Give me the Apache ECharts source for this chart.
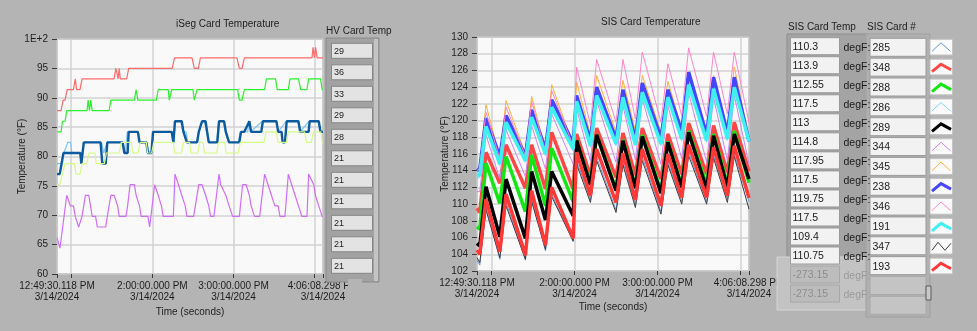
<!DOCTYPE html>
<html>
<head>
<meta charset="utf-8">
<script src="https://cdn.jsdelivr.net/npm/echarts@6/dist/echarts.min.js"></script>
<style>
html, body { margin: 0; padding: 0; background: #b4b4b4; }
#c { width: 977px; height: 331px; }
</style>
</head>
<body>
<div id="c"></div>
<script>
// ---- time axis (minutes after 12:49:30.118 PM, 3/14/2024) ----
const timeEnd = 196.636;                                  // 4:06:08.298 PM
const hourTicks = [0, 10.498, 70.498, 130.498, 190.498, 196.636];
const labelTicks = [0, 70.498, 130.498, 196.636];
const labelTexts = ['12:49:30.118 PM\n3/14/2024', '2:00:00.000 PM\n3/14/2024',
                    '3:00:00.000 PM\n3/14/2024', '4:06:08.298 PM\n3/14/2024'];

// ---- iSeg card temperatures (°F), [minute, value] ----
const isegLightBlue = [[0,78.8],[3,78.8],[5,80.6],[8,82.4],[10,82.4],[11,80.6],[19,80.6],[20,82.4],[33,82.4],[34.5,80.6],[37,82.4],[49,82.4],[50.5,80.6],[52,84.2],[60,84.2],[61.5,82.4],[66.5,82.4],[68,80.6],[70,80.6],[71.5,84.2],[85.5,84.2],[86.5,82.4],[87.5,86],[91.5,86],[93,84.2],[95.5,84.2],[96.5,82.4],[104,82.4],[105,84.2],[107.5,86],[109,86],[110.5,84.2],[112.5,82.4],[118,82.4],[119.5,86],[123,86],[124.5,84.2],[127,82.4],[134,82.4],[135.5,84.2],[141,84.2],[142,86],[143,84.2],[152,86],[162,86],[163.5,84.2],[169.5,86],[178,86],[179.5,84.2],[186.5,86],[193,86],[194.5,84.2],[196.6,84.2]];
const isegRed = [[0,87.8],[3,87.8],[4.5,89.6],[6,89.6],[7.5,91.4],[12.2,91.4],[13.5,93.2],[14.5,91.4],[17,91.4],[18.5,93.2],[42.2,93.2],[43.5,95],[44.5,95],[45.2,93.2],[46,95],[46.8,93.2],[51.5,93.2],[53,95],[85.2,95],[86.8,96.8],[99.8,96.8],[101.5,95],[104.5,95],[106,96.8],[133,96.8],[134.8,95],[136.8,95],[138.5,96.8],[188.5,96.8],[189.3,98.6],[190.3,96.8],[191.2,98.6],[192.3,96.8],[196.6,96.8]];
const isegGreen = [[0,84.2],[3,84.2],[4,86],[6,86],[7.2,87.8],[22.2,87.8],[23,89.6],[24,87.8],[25,89.6],[26,87.8],[38.5,87.8],[39.8,89.6],[57.2,89.6],[58.5,91.4],[59.8,89.6],[73.5,89.6],[74.8,91.4],[82.2,91.4],[83,89.6],[84,89.6],[84.8,91.4],[100.5,91.4],[101.5,89.6],[102.5,89.6],[103.5,91.4],[133.5,91.4],[134.8,89.6],[136.8,89.6],[138.5,91.4],[153.5,91.4],[154.8,93.2],[161.5,93.2],[162.8,91.4],[171,91.4],[172.2,93.2],[178.5,93.2],[180.2,91.4],[184.8,91.4],[186,93.2],[194.8,93.2],[196,91.4],[196.6,91.4]];
const isegDarkBlue = [[0,77],[2,77],[4.8,80.6],[17.2,80.6],[18,78.8],[18.8,78.8],[19.8,82.4],[32.2,82.4],[33.5,78.8],[36,78.8],[37.2,82.4],[48.5,82.4],[49.8,80.6],[52.2,80.6],[53,84.2],[59.8,84.2],[61,82.4],[66,82.4],[67.2,80.6],[69.8,80.6],[71,84.2],[84.8,84.2],[86,82.4],[87.2,86],[92.2,86],[93.5,84.2],[94.8,84.2],[96,82.4],[103.5,82.4],[104.8,84.2],[106,84.2],[107.2,86],[109.8,86],[111,84.2],[112.2,82.4],[118.5,82.4],[119.8,86],[123.5,86],[124.8,84.2],[126,84.2],[127.2,82.4],[134.8,82.4],[136,84.2],[138.5,84.2],[142.2,86],[143.5,84.2],[151,84.2],[152.2,86],[162.2,86],[163.5,84.2],[166,84.2],[166.8,82.4],[168.5,82.4],[169.8,86],[178.5,86],[179.8,84.2],[186,84.2],[186.8,86],[193.5,86],[194.8,84.2],[196.6,84.2]];
const isegYellowGreen = [[0,75.2],[2,75.2],[4,77],[6,78.8],[13,78.8],[14,77],[17,77],[18.5,78.8],[22,78.8],[23.5,80.6],[28,80.6],[29,78.8],[35,78.8],[36.5,80.6],[46,80.6],[47.5,82.4],[55,82.4],[56,80.6],[60,80.6],[61.5,82.4],[66,82.4],[67,80.6],[70,80.6],[71.5,82.4],[86,82.4],[87,80.6],[92,80.6],[93.5,82.4],[98,82.4],[99,80.6],[104,80.6],[105.5,82.4],[108,82.4],[109,80.6],[118,80.6],[119.5,82.4],[124,82.4],[125,80.6],[134,80.6],[135.5,82.4],[153,82.4],[154.5,84.2],[162,84.2],[163.5,82.4],[169.5,82.4],[171,84.2],[183,84.2],[184.5,82.4],[188,82.4],[189.5,84.2],[195,84.2],[196,82.4],[196.6,82.4]];
const isegViolet = [[0,66.2],[0.5,66.2],[2.2,64.4],[7.2,73.4],[9.8,71.6],[12.2,71.6],[13.5,69.8],[16,68],[17.2,68],[18.5,69.8],[21,73.4],[23.5,73.4],[24.8,71.6],[26,69.8],[28.5,69.8],[29.8,68],[36,68],[37.2,69.8],[39.8,73.4],[42.2,73.4],[44.8,71.6],[46,69.8],[51,69.8],[52.2,71.6],[54,75.2],[57.2,75.2],[58.5,73.4],[61,71.6],[62.2,69.8],[67.2,69.8],[68.5,68],[72.2,75.2],[73.5,75.2],[74.8,73.4],[77.2,71.6],[78.5,69.8],[86,69.8],[87.2,77],[89.8,75.2],[92.2,73.4],[94.8,71.6],[96,69.8],[101,69.8],[104.8,75.2],[107.2,75.2],[109.8,73.4],[112.2,71.6],[113.5,69.8],[116,69.8],[119.8,77],[121,75.2],[122.2,75.2],[124.8,73.4],[127.2,71.6],[128.5,71.6],[129.8,69.8],[134.8,69.8],[137.2,75.2],[139.8,75.2],[142.2,73.4],[143.5,71.6],[146,69.8],[149.8,69.8],[153.5,77],[156,75.2],[158.5,73.4],[161,71.6],[163.5,71.6],[164.8,69.8],[168.5,69.8],[171,77],[173.5,75.2],[176,73.4],[178.5,71.6],[181,69.8],[184.8,69.8],[186,77],[187.2,77],[189.8,75.2],[191,73.4],[193.5,71.6],[196,69.8],[196.6,69.8]];
const hvCardTemp = [29, 36, 33, 29, 28, 21, 21, 21, 21, 21, 21];

// ---- SIS card temperatures (°F): heat cycles ----
const sisRise = [2, 16.5, 35, 49.5, 69.5, 82, 100.5, 114.5, 133, 148, 166, 181];
const sisPeak = [6.5, 21, 39.5, 54, 72, 86.5, 105.5, 119.5, 138, 153, 171, 186];
const sisCardIds = [285, 348, 288, 286, 289, 344, 345, 238, 346, 191, 347, 193];
const sisCardTemp = [110.3, 113.9, 112.55, 117.5, 113, 114.8, 117.95, 117.5, 119.75, 117.5, 109.4, 110.75, -273.15, -273.15];
const sisStart = [103.3, 109.5, 107.3, 113.0, 105.3, 111.5, 114.3, 114.0, 114.0, 113.4, 103.6, 104.5];
const sisLow = [
  [102.7,103.4,103.3,104.4,105.5,110.5,109.3,109.9,109.1,110.3,110.3,110.6],
  [109.0,112.5,111.9,111.8,111.8,113.4,113.2,113.5,113.0,113.6,113.6,113.8],
  [107.0,110.1,109.1,109.8,110.3,112.4,111.8,112.0,111.6,112.2,112.3,112.4],
  [113.2,114.6,115.0,115.8,116.4,116.8,117.0,117.0,117.0,117.6,117.4,117.6],
  [105.0,106.1,105.9,108.1,108.6,112.3,111.6,111.9,111.3,112.0,111.8,112.0],
  [111.5,113.0,113.3,114.2,114.8,115.2,115.0,115.3,114.8,115.4,115.0,115.2],
  [114.6,115.6,116.0,116.5,117.0,118.3,118.6,118.8,118.6,119.0,118.8,119.0],
  [114.2,115.7,115.8,116.6,117.3,117.6,117.8,117.7,117.9,118.7,118.3,118.5],
  [114.3,115.4,115.8,116.3,117.0,119.5,119.8,120.2,119.8,120.6,120.5,120.8],
  [113.5,114.8,115.2,116.0,116.6,117.0,117.2,117.1,117.2,117.8,117.6,117.8],
  [103.0,103.6,103.4,104.6,105.6,110.2,109.0,109.6,108.8,110.0,110.0,110.2],
  [104.0,104.3,103.9,105.1,105.9,111.0,110.2,110.5,109.8,110.8,110.8,111.0]
];
const sisHigh = [
  [109.6,110.2,110.6,111.2,115.2,115.6,115.0,115.6,115.0,116.2,115.8,116.0],
  [116.2,117.1,117.1,118.6,118.4,119.1,118.5,119.1,118.4,119.7,119.4,119.8],
  [114.9,115.7,115.9,116.7,117.6,118.3,117.7,118.3,117.5,118.8,118.4,118.8],
  [119.6,120.1,120.7,122.0,122.7,123.5,123.1,123.8,123.2,124.9,124.4,124.6],
  [112.1,113.0,113.9,113.9,117.6,118.3,117.6,118.1,117.4,118.6,118.2,118.4],
  [118.3,118.9,119.4,120.8,121.4,122.4,121.8,122.6,121.8,123.3,122.8,123.0],
  [121.9,122.4,122.9,124.3,124.6,125.4,124.8,125.4,124.7,125.8,125.4,126.4],
  [120.3,120.6,121.3,122.5,123.0,124.0,123.7,124.5,123.7,125.8,125.2,125.2],
  [121.0,121.6,122.3,123.6,126.4,127.3,127.3,128.2,126.8,128.7,128.2,128.2],
  [119.3,119.8,120.4,121.6,122.3,123.0,122.8,123.4,122.8,124.3,123.8,124.0],
  [109.3,109.8,110.3,110.9,114.8,115.2,114.7,115.2,114.7,115.8,115.5,115.7],
  [110.6,111.2,111.6,112.0,116.2,116.6,116.1,116.6,116.0,117.1,116.8,117.0]
];
const sisColors = ['#6b98cc', '#ff4646', '#14e614', '#86d3fb', '#000000', '#cf84f5',
                   '#ffb23c', '#4646ff', '#ff86cb', '#3ef0f0', '#3c3c3c', '#ff3838'];
const sisWidths = [1, 3.5, 3.5, 1, 3.5, 1, 1, 3.5, 1, 3.5, 1, 3.5];

const FONT = 'Liberation Sans, Arial, sans-serif';
const TXT = '#1e1e1e';

function sisPoints(i) {
  const pts = [[0, sisStart[i]]];
  for (let k = 0; k < sisRise.length; k++) {
    pts.push([sisRise[k], sisLow[i][k]]);
    pts.push([sisPeak[k], sisHigh[i][k]]);
  }
  pts.push([timeEnd, sisCardTemp[i]]);
  return pts;
}

function timeAxis(gridIndex, gap) {
  return {
    type: 'value', gridIndex, min: 0, max: timeEnd,
    axisLine: { show: false },
    axisTick: { show: true, customValues: hourTicks, length: 4, lineStyle: { color: '#3a3a3a' } },
    axisLabel: {
      customValues: labelTicks, color: TXT, fontFamily: FONT, fontSize: 10, lineHeight: 11.5, margin: 6,
      formatter: v => {
        let best = 0;
        labelTicks.forEach((t, j) => { if (Math.abs(t - v) < Math.abs(labelTicks[best] - v)) best = j; });
        return labelTexts[best];
      }
    },
    splitLine: { show: true, lineStyle: { color: '#d2d2d2', width: 1.5 } },
    name: 'Time (seconds)', nameLocation: 'middle', nameGap: gap, nameMoveOverlap: false,
    nameTextStyle: { color: TXT, fontFamily: FONT, fontSize: 10 }
  };
}

function tempAxis(gridIndex, min, max, step, gap, fmt) {
  return {
    type: 'value', gridIndex, min, max, interval: step,
    axisLine: { show: false },
    axisTick: { show: true, length: 5, lineStyle: { color: '#3a3a3a' } },
    axisLabel: { color: TXT, fontFamily: FONT, fontSize: 10, margin: 9, formatter: fmt },
    splitLine: { show: true, lineStyle: { color: '#d2d2d2', width: 1.5 } },
    name: 'Temperature (°F)', nameLocation: 'middle', nameGap: gap, nameMoveOverlap: false,
    nameTextStyle: { color: TXT, fontFamily: FONT, fontSize: 10 }
  };
}

const series = [];
const isegSets = [
  [isegLightBlue, '#7cc6f7', 1.2],
  [isegRed, '#ff6b6b', 1.2],
  [isegGreen, '#2cf02c', 1.2],
  [isegDarkBlue, '#0d5b9e', 2.4],
  [isegYellowGreen, '#d6fa88', 1.2],
  [isegViolet, '#d06ef5', 1.2]
];
isegSets.forEach(([d, c, w]) => series.push({
  type: 'line', xAxisIndex: 0, yAxisIndex: 0, data: d, showSymbol: false,
  lineStyle: { color: c, width: w }, itemStyle: { color: c }, animation: false
}));
sisCardIds.forEach((id, i) => series.push({
  type: 'line', name: String(id), xAxisIndex: 1, yAxisIndex: 1, data: sisPoints(i), showSymbol: false,
  lineStyle: { color: sisColors[i], width: sisWidths[i] }, itemStyle: { color: sisColors[i] }, animation: false
}));

// ---- panel widgets: titles, indicator tables, plot legend ----
const g = [];
function txt(x, y, s, size, color, align) {
  g.push({ type: 'text', x, y, z: 10, style: { text: s, fill: color || TXT, font: size + 'px ' + FONT,
           textAlign: align || 'left', textVerticalAlign: 'middle', verticalAlign: 'middle' } });
}
function box(x, y, w, h, fill, stroke, z) {
  g.push({ type: 'rect', z: z || 5, shape: { x, y, width: w, height: h },
           style: { fill, stroke: stroke || null, lineWidth: stroke ? 1 : 0 } });
}
txt(176, 24.5, 'iSeg Card Temperature', 10);
txt(601, 22, 'SIS Card Temperature', 10);

// HV card temperature column
txt(326, 31, 'HV Card Temp', 10);
box(326, 38, 53, 244, '#a2a2a2', '#8a8a8a');
box(374, 39, 4, 242, '#c4c4c4');
hvCardTemp.forEach((v, i) => {
  const y = 43.3 + 21.5 * i;
  box(331.5, y, 41, 15, '#e3e3e3', '#858585', 6);
  txt(334, y + 7.8, String(v), 9, '#222');
});

// SIS card temperature column
txt(788, 27, 'SIS Card Temp', 10);
txt(867, 27, 'SIS Card #', 10);
box(787, 34, 81, 224, '#a4a4a4', '#8e8e8e');
box(777, 257, 93, 53, '#c3c3c3', '#d6d6d6');
sisCardTemp.forEach((v, i) => {
  const y = 37.7 + 19.03 * i;
  const live = v > -273;
  box(790.5, y, 49, 17, live ? '#f2f2f2' : '#bcbcbc', live ? '#9a9a9a' : '#a8a8a8', 6);
  txt(792.5, y + 9, String(v), 10.5, live ? '#1a1a1a' : '#8e8e8e');
  txt(843.5, y + 10, 'degF:', 10.5, live ? '#1a1a1a' : '#9a9a9a');
});

// SIS card number column with plot legend
box(866, 34, 64, 283, '#b0b0b0', '#a0a0a0', 7);
for (let i = 0; i < 14; i++) {
  const y = 38.3 + 19.85 * i;
  const used = i < sisCardIds.length;
  box(870, y, 56, 18, used ? '#f2f2f2' : '#c4c4c4', used ? '#9a9a9a' : '#aaaaaa', 8);
  if (used) txt(872.5, y + 10, String(sisCardIds[i]), 10.5, '#1a1a1a');
}
sisCardIds.forEach((id, i) => {
  const y = 39.3 + 19.9 * i;
  box(930, y, 22.5, 15.7, '#fafafa', '#c4c4c4', 8);
  const thick = sisWidths[i] > 2;
  const pts = id === 347 ? [[2, 12], [8, 4], [15, 12], [21, 5]]
            : thick ? [[2, 12.5], [11, 5], [21, 10.5]] : [[2, 12], [11, 3.5], [20.5, 12]];
  g.push({ type: 'polyline', z: 9, shape: { points: pts.map(p => [930 + p[0], y + p[1]]) },
           style: { stroke: sisColors[i], lineWidth: thick ? 3 : 1, fill: null } });
});
box(926, 286, 5, 14, '#c8c8c8', '#5a5a5a', 9);

// panel edge trimming the last time label
box(348, 279, 14, 12, '#b4b4b4', null, 9);

const chart = echarts.init(document.getElementById('c'), null, { renderer: 'canvas' });
chart.setOption({
  backgroundColor: '#b4b4b4',
  animation: false,
  grid: [
    { left: 57, top: 39, width: 266, height: 235, show: true, backgroundColor: '#f9f9f9', borderColor: '#7d7d7d', borderWidth: 1 },
    { left: 477, top: 37, width: 272, height: 234, show: true, backgroundColor: '#f9f9f9', borderColor: '#7d7d7d', borderWidth: 1 }
  ],
  xAxis: [timeAxis(0, 33), timeAxis(1, 31)],
  yAxis: [
    tempAxis(0, 60, 100, 5, 30, v => (v === 100 ? '1E+2' : String(v))),
    tempAxis(1, 102, 130, 2, 27, v => String(v))
  ],
  series,
  graphic: { elements: g }
});
</script>
</body>
</html>
